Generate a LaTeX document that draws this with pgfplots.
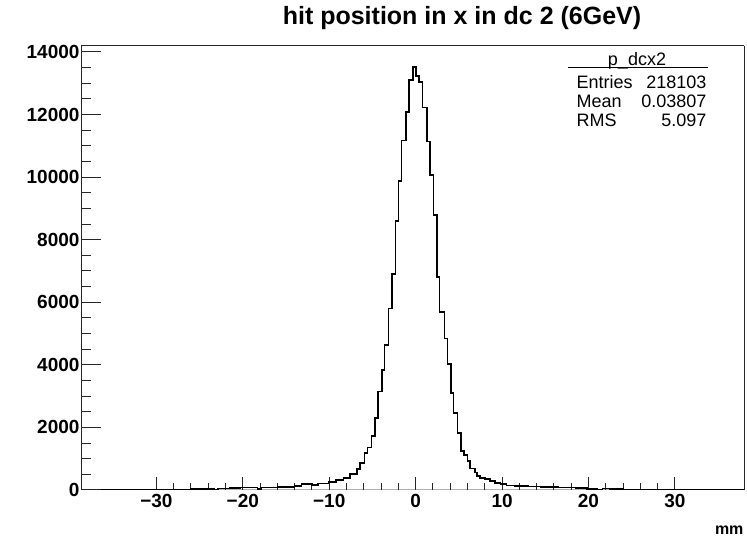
\documentclass[border=0pt]{standalone}
\usepackage{fontspec}
\setmainfont{Liberation Sans}
\usepackage{pgfplots}
\pgfplotsset{compat=1.18}

% histogram of p_dcx2, left bin edge and content
\pgfplotstableread{
x      y
-38.7  0
-31.0  10
-28.5  18
-26.0  25
-24.4  38
-23.3  15
-22.9  45
-21.5  60
-20.3  80
-18.3  35
-17.9  80
-16.0  90
-14.0  135
-13.2  200
-12.0  160
-11.3  210
-10.1  250
-9.21  328
-8.36  380
-7.59  508
-6.82  667
-6.44  857
-5.94  1175
-5.59  1354
-5.12  1725
-4.74  2307
-4.39  3153
-3.93  3841
-3.62  4635
-3.16  5799
-2.77  6910
-2.35  8603
-2.00  9873
-1.65  11164
-1.11  12074
-0.76  13101
-0.30  13524
0.05   13238
0.36   13048
0.78   12222
1.32   11143
1.67   10063
2.05   8794
2.44   6804
2.75   5693
3.33   4847
3.67   4032
4.10   3100
4.37   2466
4.83   1831
5.25   1249
5.60   1111
5.99   931
6.30   688
6.88   561
7.10   455
7.45   392
8.03   350
8.61   296
9.19   222
9.80   190
10.5   150
11.5   130
13.0   115
14.5   95
16.5   80
18.5   60
19.8   40
21.0   20
21.6   45
22.5   35
24.0   15
25.0   8
30.0   5
36.0   0
38.0   0
}\hist

\begin{document}
\begin{tikzpicture}
\useasboundingbox (0,0) rectangle (747pt,537pt);
\pgfplotsset{
  every axis/.append style={
    at={(81pt,47pt)}, anchor=south west,
    scale only axis, width=663pt, height=444pt,
    xmin=-38.73, xmax=38.0, ymin=0, ymax=14190,
    scaled ticks=false,
    tick align=inside,
    axis line style={line width=1pt, black!85},
    every tick/.style={line width=1pt, black!85},
    tick label style={font=\bfseries\fontsize{19}{19}\selectfont},
    /pgf/number format/assume math mode=true,
  }
}
\begin{axis}[
  hide y axis,
  xtick pos=bottom,
  xtick={-30,-20,...,30},
  xticklabels={−30,−20,−10,0,10,20,30},
  minor x tick num=4,
  major tick length=13pt, minor tick length=7pt,
  xticklabel style={yshift=-1pt},
]
\addplot[const plot, line width=1.6pt, black] table {\hist};
\end{axis}
\begin{axis}[
  hide x axis,
  ytick pos=left,
  ytick={0,2000,...,14000},
  yticklabels={0,2000,4000,6000,8000,10000,12000,14000},
  minor y tick num=3,
  major tick length=20pt, minor tick length=10pt,
  yticklabel style={xshift=2pt},
]
\end{axis}
\node[font=\bfseries\fontsize{25}{25}\selectfont] at (462pt,519pt) {hit position in x in dc 2 (6GeV)};
\node[anchor=east, font=\bfseries\fontsize{16}{16}\selectfont] at (747pt,7pt) {mm};
% stats box
\draw[line width=1pt, black] (568pt,469pt) -- (708pt,469pt);
\node[font=\fontsize{18}{18}\selectfont] at (637pt,476pt) {p\_dcx2};
\node[anchor=west, font=\fontsize{18}{18}\selectfont] at (573pt,455pt) {Entries};
\node[anchor=west, font=\fontsize{18}{18}\selectfont] at (573pt,436pt) {Mean};
\node[anchor=west, font=\fontsize{18}{18}\selectfont] at (573pt,417pt) {RMS};
\node[anchor=east, font=\fontsize{18}{18}\selectfont] at (710pt,455pt) {218103};
\node[anchor=east, font=\fontsize{18}{18}\selectfont] at (710pt,436pt) {0.03807};
\node[anchor=east, font=\fontsize{18}{18}\selectfont] at (710pt,417pt) {5.097};
\end{tikzpicture}
\end{document}
